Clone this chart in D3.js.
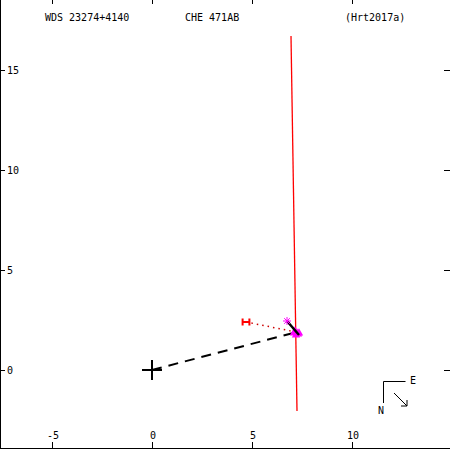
<!DOCTYPE html>
<html>
<head>
<meta charset="utf-8">
<script src="https://cdn.jsdelivr.net/npm/d3@7"></script>
<style>
  body { margin: 0; background: #fff; }
  svg text { font-family: "DejaVu Sans Mono", monospace; font-size: 10px; fill: #000; }
</style>
</head>
<body>
<svg id="chart" width="450" height="450"></svg>
<script>
// --- data (arcsec) ---
const titleTexts = ["WDS 23274+4140", "CHE 471AB", "(Hrt2017a)"];
const xTicks = [-5, 0, 5, 10];
const yTicks = [0, 5, 10, 15];
const primary = [0, 0];
const orbitPath = [[6.95, 16.7], [7.25, -2.05]];
const nodeLine = [[0, 0], [7.25, 1.9]];
const measures = [[6.75, 2.45]];
const moveSeg = [[6.75, 2.45], [7.35, 1.75]];
const recent = [[7.15, 1.95], [7.25, 1.85], [7.3, 1.8], [7.2, 1.75], [7.35, 1.85], [7.1, 1.85]];
const hMark = [4.7, 2.4];
const hErr = 0.17;
const residual = [[4.7, 2.4], [7.2, 1.9]];

const svg = d3.select("#chart");

// 20 px per arcsec, origin at (152, 370)
const x = d3.scaleLinear().domain([-7.6, 14.85]).range([0, 449]);
const y = d3.scaleLinear().domain([-3.95, 18.5]).range([449, 0]);
const line = d3.line().x(d => x(d[0])).y(d => y(d[1]));

// frame: left and bottom edges only
svg.append("line").attr("x1", 0.5).attr("x2", 0.5).attr("y1", 0).attr("y2", 449).attr("stroke", "#000");
svg.append("line").attr("x1", 0).attr("x2", 450).attr("y1", 448.5).attr("y2", 448.5).attr("stroke", "#000");

// ticks on all four sides
const tk = svg.append("g").attr("stroke", "#000").attr("stroke-width", 1);
xTicks.forEach(v => {
  tk.append("line").attr("x1", x(v) + 0.5).attr("x2", x(v) + 0.5).attr("y1", 0).attr("y2", 4);
  tk.append("line").attr("x1", x(v) + 0.5).attr("x2", x(v) + 0.5).attr("y1", 442).attr("y2", 448);
});
yTicks.forEach(v => {
  tk.append("line").attr("y1", y(v) + 0.5).attr("y2", y(v) + 0.5).attr("x1", 0).attr("x2", 5);
  tk.append("line").attr("y1", y(v) + 0.5).attr("y2", y(v) + 0.5).attr("x1", 444).attr("x2", 450);
});

svg.selectAll("text.xl").data(xTicks).join("text").attr("class", "xl")
  .attr("x", d => x(d) + 1).attr("y", 439).attr("text-anchor", "middle")
  .text(d => d);
svg.selectAll("text.yl").data(yTicks).join("text").attr("class", "yl")
  .attr("x", 7).attr("y", d => y(d) + 4).text(d => d);

// title row
svg.append("text").attr("x", 45).attr("y", 21).text(titleTexts[0]);
svg.append("text").attr("x", 185).attr("y", 21).text(titleTexts[1]);
svg.append("text").attr("x", 345).attr("y", 21).text(titleTexts[2]);

// orbit (red)
svg.append("path").attr("d", line(orbitPath)).attr("fill", "none")
  .attr("stroke", "#ff0000").attr("stroke-width", 1.3);

// line of nodes (dashed)
svg.append("path").attr("d", line(nodeLine)).attr("fill", "none")
  .attr("stroke", "#000").attr("stroke-width", 2).attr("stroke-dasharray", "10,7");

// residual dotted line from H point
svg.append("path").attr("d", line(residual)).attr("fill", "none")
  .attr("stroke", "#cc0000").attr("stroke-width", 1.5).attr("stroke-dasharray", "1.5,4");

// H marker
const hg = svg.append("g").attr("stroke", "#ff0000").attr("stroke-width", 2);
hg.append("line").attr("x1", x(hMark[0] - hErr)).attr("x2", x(hMark[0] + hErr))
  .attr("y1", y(hMark[1])).attr("y2", y(hMark[1]));
[hMark[0] - hErr, hMark[0] + hErr].forEach(v => {
  hg.append("line").attr("x1", x(v)).attr("x2", x(v))
    .attr("y1", y(hMark[1]) - 3.5).attr("y2", y(hMark[1]) + 3.5);
});

// recent measures (magenta)
svg.selectAll("path.rc").data(recent).join("path").attr("class", "rc")
  .attr("d", d3.symbol(d3.symbolTriangle, 30))
  .attr("transform", d => `translate(${x(d[0])},${y(d[1])})`)
  .attr("fill", "#ff00ff");

// motion segment
svg.append("path").attr("d", line(moveSeg)).attr("fill", "none")
  .attr("stroke", "#000").attr("stroke-width", 2.5);

// asterisk measures
measures.forEach(m => {
  const g = svg.append("g").attr("transform", `translate(${x(m[0])},${y(m[1])})`)
    .attr("stroke", "#ff00ff").attr("stroke-width", 1);
  [0, 45, 90, 135].forEach(a => {
    const r = a * Math.PI / 180;
    g.append("line").attr("x1", -4 * Math.cos(r)).attr("y1", -4 * Math.sin(r))
      .attr("x2", 4 * Math.cos(r)).attr("y2", 4 * Math.sin(r));
  });
});

// primary cross
const pg = svg.append("g").attr("stroke", "#000").attr("stroke-width", 2);
pg.append("line").attr("x1", x(primary[0]) - 10).attr("x2", x(primary[0]) + 10)
  .attr("y1", y(primary[1])).attr("y2", y(primary[1]));
pg.append("line").attr("y1", y(primary[1]) - 10).attr("y2", y(primary[1]) + 10)
  .attr("x1", x(primary[0])).attr("x2", x(primary[0]));

// compass
const cg = svg.append("g").attr("stroke", "#000").attr("stroke-width", 1).attr("fill", "none");
cg.append("path").attr("d", "M405.5,381.5 H383.5 V403");
cg.append("path").attr("d", "M394,393 L407,406 M407,400 L407,406 L401,406");
svg.append("text").attr("x", 410).attr("y", 384).text("E");
svg.append("text").attr("x", 378).attr("y", 414).text("N");
</script>
</body>
</html>
